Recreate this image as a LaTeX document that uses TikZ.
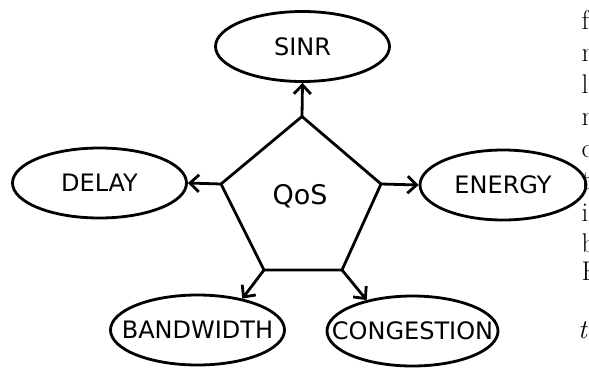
\documentclass[tikz,border=0pt]{standalone}
\usepackage{fontspec}
\newfontfamily\dejavu{DejaVu Sans}
\usetikzlibrary{shapes.geometric,arrows.meta}
\begin{document}
\begin{tikzpicture}[x=1pt,y=-1pt,
  oval/.style={ellipse,draw,line width=2.8pt,inner sep=0pt,
    minimum width=174pt,minimum height=70pt,
    font=\dejavu\fontsize{24}{28}\selectfont},
  pent/.style={draw,line width=2.8pt,line join=miter},
  arr/.style={draw,line width=2.8pt,-{Straight Barb[length=9pt,width=17pt,line width=2.8pt]}},
  col/.style={anchor=base west,inner sep=0pt,font=\fontsize{27}{32}\selectfont}]
\fill[white] (0,0) rectangle (589,367);
\useasboundingbox (0,0) rectangle (589,367);
% pentagon
\coordinate (pt) at (302,116.5);
\coordinate (pl) at (221,184);
\coordinate (pr) at (381,184);
\coordinate (pbl) at (264,270);
\coordinate (pbr) at (342,270);
\draw[pent] (pt) -- (pr) -- (pbr) -- (pbl) -- (pl) -- cycle;
\node[anchor=base,inner sep=0pt,font=\dejavu\fontsize{27}{30}\selectfont] (qos) at (300,204) {QoS};
% ellipses
\node[oval] (sinr) at (302.5,46.5) {\makebox[0pt]{SINR}};
\node[oval] (delay) at (99.5,183) {\makebox[0pt]{DELAY}};
\node[oval,minimum width=166pt] (energy) at (503,185) {\makebox[0pt]{ENERGY}};
\node[oval] (bw) at (197.5,330) {\makebox[0pt]{BANDWIDTH}};
\node[oval,minimum width=171pt] (cg) at (412.5,331) {\makebox[0pt]{CONGESTION}};
% arrows
\draw[arr] (pt) -- (sinr.south);
\draw[arr] (pl) -- (delay.east);
\draw[arr] (pr) -- (energy.west);
\draw[arr] (pbl) -- (bw.35);
\draw[arr] (pbr) -- (cg.146);
% clipped text column at the right edge
\node[col] (c1) at (581.5,29) {f};
\node[col] (c2) at (581.5,61) {m};
\node[col] (c3) at (581.5,93) {l};
\node[col] (c4) at (581.5,125) {m};
\node[col] (c5) at (581.5,157) {c};
\node[col] (c6) at (581.5,189) {t};
\node[col] (c7) at (581.5,221) {i};
\node[col] (c8) at (581.5,252) {b};
\node[col] (c9) at (581.5,280) {F};
\node[col,font=\itshape\fontsize{27}{32}\selectfont] (c10) at (578,338) {t};
\end{tikzpicture}
\end{document}
